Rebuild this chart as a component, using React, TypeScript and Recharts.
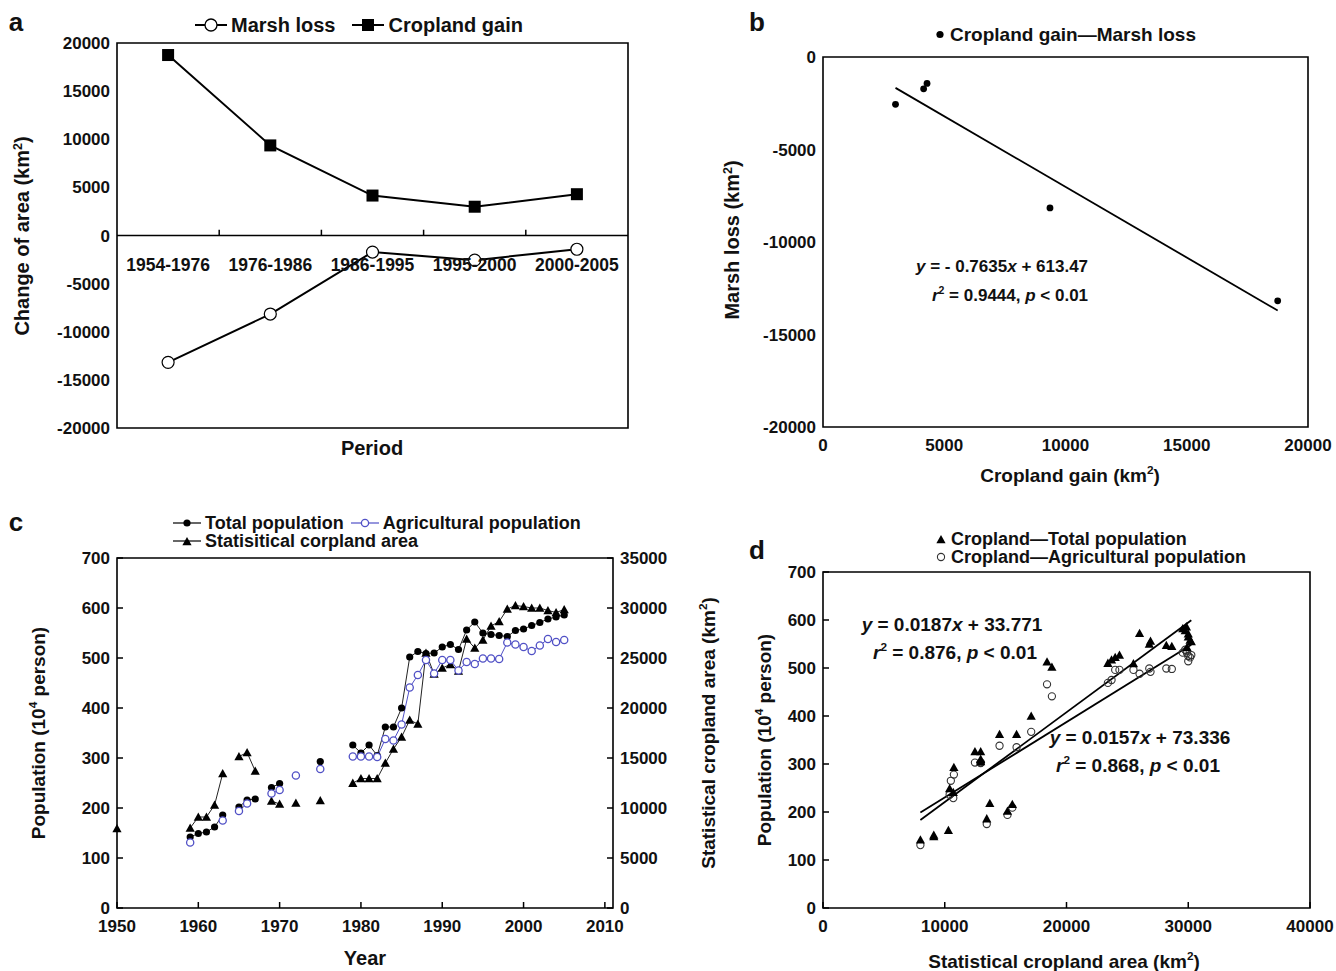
import React from "react";
import {
  LineChart,
  Line,
  ComposedChart,
  ScatterChart,
  Scatter,
  XAxis,
  YAxis,
  ReferenceLine,
  ReferenceArea,
  ReferenceDot,
} from "recharts";

const FONT = '"Liberation Sans", Arial, Helvetica, sans-serif';
const BLUE = "#5151c6";

// a: change of area per period (km2)
const periods = ["1954-1976", "1976-1986", "1986-1995", "1995-2000", "2000-2005"];
const marshLoss = [-13180, -8160, -1720, -2560, -1430];
const croplandGain = [18750, 9360, 4150, 2990, 4290];
const changeTicks = [-20000, -15000, -10000, -5000, 0, 5000, 10000, 15000, 20000];

// b: marsh loss vs cropland gain
const gainTicks = [0, 5000, 10000, 15000, 20000];
const lossTicks = [-20000, -15000, -10000, -5000, 0];
const fitB = { slope: -0.7635, intercept: 613.47 };

// c: population (10^4 person) and statistical cropland area (km2)
const yearTicks = [1950, 1960, 1970, 1980, 1990, 2000, 2010];
const popTicks = [0, 100, 200, 300, 400, 500, 600, 700];
const cropTicks = [0, 5000, 10000, 15000, 20000, 25000, 30000, 35000];

const cropYears = [
  1950, 1959, 1960, 1961, 1962, 1963, 1965, 1966, 1967, 1969, 1970, 1972, 1975,
  1979, 1980, 1981, 1982, 1983, 1984, 1985, 1986, 1987, 1988, 1989, 1990, 1991,
  1992, 1993, 1994, 1995, 1996, 1997, 1998, 1999, 2000, 2001, 2002, 2003, 2004, 2005,
];
const cropArea = [
  7950, 8000, 9100, 9100, 10300, 13450, 15150, 15550, 13700, 10700, 10400, 10500, 10750,
  12480, 12950, 12950, 12950, 14500, 15900, 17100, 18800, 18400, 25500, 23400, 24000, 24350,
  23700, 26900, 26000, 26800, 28200, 28650, 29900, 30250, 30150, 30000, 30000, 29750, 29550, 29850,
];

const totalYears = [
  1959, 1960, 1961, 1962, 1963, 1965, 1966, 1967, 1969, 1970, 1975,
  1979, 1980, 1981, 1982, 1983, 1984, 1985, 1986, 1987, 1988, 1989, 1990, 1991,
  1992, 1993, 1994, 1995, 1996, 1997, 1998, 1999, 2000, 2001, 2002, 2003, 2004, 2005,
];
const totalPop = [
  142, 149, 152, 162, 186, 202, 216, 218, 241, 249, 293,
  326, 310, 326, 305, 362, 362, 400, 502, 513, 509, 510, 522, 527,
  517, 556, 572, 550, 547, 545, 543, 555, 558, 565, 571, 578, 582, 586,
];

const agriYears = [
  1959, 1963, 1965, 1966, 1969, 1970, 1972, 1975,
  1979, 1980, 1981, 1982, 1983, 1984, 1985, 1986, 1987, 1988, 1989, 1990, 1991,
  1992, 1993, 1994, 1995, 1996, 1997, 1998, 1999, 2000, 2001, 2002, 2003, 2004, 2005,
];
const agriPop = [
  131, 175, 194, 209, 229, 236, 265, 278,
  303, 303, 303, 302, 338, 335, 367, 441, 466, 496, 469, 496, 496,
  475, 492, 488, 499, 499, 498, 531, 527, 522, 514, 525, 538, 532, 536,
];

// d: regressions of population on cropland area
const dAreaTicks = [0, 10000, 20000, 30000, 40000];
const fitTotal = { slope: 0.0187, intercept: 33.771 };
const fitAgri = { slope: 0.0157, intercept: 73.336 };

// ---------- tables ----------
const tableA = periods.map((p, i) => ({
  period: p,
  pos: i + 0.5,
  loss: marshLoss[i],
  gain: croplandGain[i],
}));
const tableB = croplandGain.map((g, i) => ({ gain: g, loss: marshLoss[i] }));
const gainMin = Math.min(...croplandGain);
const gainMax = Math.max(...croplandGain);

const lookup = (years: number[], vals: number[], y: number) => {
  const i = years.indexOf(y);
  return i < 0 ? null : vals[i];
};
const tableC: any[] = [];
for (let y = cropYears[0]; y <= cropYears[cropYears.length - 1]; y++) {
  tableC.push({
    year: y,
    crop: lookup(cropYears, cropArea, y),
    total: lookup(totalYears, totalPop, y),
    agri: lookup(agriYears, agriPop, y),
  });
}

const pairTotal = totalYears
  .filter((y) => cropYears.includes(y))
  .map((y) => ({ area: lookup(cropYears, cropArea, y), pop: lookup(totalYears, totalPop, y) }));
const pairAgri = agriYears
  .filter((y) => cropYears.includes(y))
  .map((y) => ({ area: lookup(cropYears, cropArea, y), pop: lookup(agriYears, agriPop, y) }));
const dAreas = pairTotal.map((p) => p.area as number);
const dMin = Math.min(...dAreas);
const dMax = Math.max(...dAreas);

// ---------- ticks ----------
const tickStyle: React.CSSProperties = {
  fontFamily: FONT,
  fontSize: 17,
  fontWeight: 700,
  fill: "#111",
};
const GAP = 7;
const XGAP = 10;
const TL = 6;

function TickLeft(props: any) {
  const { x, y, payload, inner } = props;
  const ax = x + GAP;
  return (
    <g>
      {inner && <line x1={ax} x2={ax + TL} y1={y} y2={y} stroke="#000" strokeWidth={1.5} />}
      <text x={x} y={y} dy="0.36em" textAnchor="end" style={tickStyle}>
        {payload.value}
      </text>
    </g>
  );
}

function TickRight(props: any) {
  const { x, y, payload, inner } = props;
  const ax = x - GAP;
  return (
    <g>
      {inner && <line x1={ax} x2={ax - TL} y1={y} y2={y} stroke="#000" strokeWidth={1.5} />}
      <text x={x} y={y} dy="0.36em" textAnchor="start" style={tickStyle}>
        {payload.value}
      </text>
    </g>
  );
}

function TickBottom(props: any) {
  const { x, y, payload, inner } = props;
  const ay = y - XGAP;
  return (
    <g>
      {inner && <line x1={x} x2={x} y1={ay} y2={ay - TL} stroke="#000" strokeWidth={1.5} />}
      <text x={x} y={y} dy="0.8em" textAnchor="middle" style={tickStyle}>
        {payload.value}
      </text>
    </g>
  );
}

// ---------- marker shapes (own prop names so the series props do not repaint them) ----------
function Tri(props: any) {
  const { cx, cy, paint = "#000" } = props;
  if (cx == null || cy == null) return <g />;
  const s = 4.6;
  return (
    <path
      d={`M${cx},${cy - s} L${cx + s},${cy + s * 0.8} L${cx - s},${cy + s * 0.8} Z`}
      fill={paint}
    />
  );
}

function Disc(props: any) {
  const { cx, cy, rad = 3.6, paint = "#000" } = props;
  if (cx == null || cy == null) return <g />;
  return <circle cx={cx} cy={cy} r={rad} fill={paint} />;
}

function Ring(props: any) {
  const { cx, cy, rad = 3.6, edge = "#000", inside = "#fff", sw = 1.3 } = props;
  if (cx == null || cy == null) return <g />;
  return <circle cx={cx} cy={cy} r={rad} fill={inside} stroke={edge} strokeWidth={sw} />;
}

function Square(props: any) {
  const { cx, cy } = props;
  if (cx == null || cy == null) return <g />;
  return <rect x={cx - 6} y={cy - 6} width={12} height={12} fill="#000" />;
}

// ---------- html text ----------
function Txt(props: {
  x: number;
  y: number;
  size?: number;
  rotate?: number;
  anchor?: "start" | "middle" | "end";
  children: React.ReactNode;
}) {
  const { x, y, size = 17, rotate = 0, anchor = "middle", children } = props;
  const tx = anchor === "middle" ? "-50%" : anchor === "start" ? "0%" : "-100%";
  return (
    <div
      style={{
        position: "absolute",
        left: x,
        top: y,
        transform: `translate(${tx}, -50%) rotate(${rotate}deg)`,
        whiteSpace: "nowrap",
        fontFamily: FONT,
        fontWeight: 700,
        fontSize: size,
        lineHeight: 1,
        color: "#111",
      }}
    >
      {children}
    </div>
  );
}

const Sup = ({ children }: { children: React.ReactNode }) => (
  <sup style={{ fontSize: "0.62em", verticalAlign: "0.6em", lineHeight: 0 }}>{children}</sup>
);

function Marker({ kind, color = "#000", line = true, w = 30 }: { kind: string; color?: string; line?: boolean; w?: number }) {
  const width = line ? w : 14;
  const c = width / 2;
  const heavy = kind === "sq" || kind === "ring-a";
  return (
    <svg width={width} height={14} style={{ display: "block", marginRight: 3 }}>
      {line && <line x1={1} x2={width - 1} y1={7} y2={7} stroke={color} strokeWidth={heavy ? 2 : 1.2} />}
      {kind === "ring-a" && <Ring cx={c} cy={7} rad={6} sw={1.3} />}
      {kind === "sq" && <Square cx={c} cy={7} />}
      {kind === "disc" && <Disc cx={c} cy={7} />}
      {kind === "ring" && <Ring cx={c} cy={7} edge={color} />}
      {kind === "ring-d" && <Ring cx={c} cy={7} edge="#333" inside="none" sw={1.1} />}
      {kind === "tri" && <Tri cx={c} cy={7.5} />}
    </svg>
  );
}

const Row = ({ x, y, size = 17, children }: { x: number; y: number; size?: number; children: React.ReactNode }) => (
  <div
    style={{
      position: "absolute",
      left: x,
      top: y,
      transform: "translateY(-50%)",
      display: "flex",
      alignItems: "center",
      whiteSpace: "nowrap",
      fontFamily: FONT,
      fontWeight: 700,
      fontSize: size,
      lineHeight: 1,
      color: "#111",
    }}
  >
    {children}
  </div>
);

const frame = { fill: "none", fillOpacity: 0, stroke: "#000", strokeWidth: 1.6 };

export default function App() {
  return (
    <div style={{ position: "absolute", left: 0, top: 0, width: 1336, height: 971, background: "#fff" }}>
      {/* ---------------- a ---------------- */}
      <div style={{ position: "absolute", left: 0, top: 0 }}>
        <LineChart
          width={640}
          height={470}
          data={tableA}
          margin={{ top: 43, right: 12, bottom: 42, left: 57 }}
        >
          <XAxis type="number" dataKey="pos" domain={[0, 5]} hide />
          <YAxis
            domain={[-20000, 20000]}
            ticks={changeTicks}
            interval={0}
            width={60}
            axisLine={false}
            tickLine={false}
            tickSize={0}
            tickMargin={GAP}
            tick={<TickLeft />}
          />
          <ReferenceArea x1={0} x2={5} y1={-20000} y2={20000} {...frame} />
          <ReferenceLine y={0} stroke="#000" strokeWidth={1.6} />
          {[1, 2, 3, 4].map((b) => (
            <ReferenceLine
              key={b}
              segment={[
                { x: b, y: 0 },
                { x: b, y: 600 },
              ]}
              stroke="#000"
              strokeWidth={1.5}
            />
          ))}
          {tableA.map((r) => (
            <ReferenceDot
              key={r.period}
              x={r.pos}
              y={0}
              r={0}
              stroke="none"
              label={{ value: r.period, position: "bottom", offset: 23, style: { ...tickStyle, fontSize: 17.5 } }}
            />
          ))}
          <Line
            type="linear"
            dataKey="gain"
            stroke="#000"
            strokeWidth={2}
            dot={<Square />}
            isAnimationActive={false}
          />
          <Line
            type="linear"
            dataKey="loss"
            stroke="#000"
            strokeWidth={2}
            dot={<Ring rad={6} sw={1.2} />}
            isAnimationActive={false}
          />
        </LineChart>
      </div>
      <Txt x={16} y={22} size={26}>a</Txt>
      <Row x={194} y={25} size={20}>
        <Marker kind="ring-a" w={34} />
        <span style={{ marginRight: 16 }}>Marsh loss</span>
        <Marker kind="sq" w={34} />
        <span>Cropland gain</span>
      </Row>
      <Txt x={22} y={236} rotate={-90} size={20}>
        Change of area (km<Sup>2</Sup>)
      </Txt>
      <Txt x={372} y={448} size={20}>Period</Txt>

      {/* ---------------- b ---------------- */}
      <div style={{ position: "absolute", left: 660, top: 0 }}>
        <ScatterChart width={676} height={490} margin={{ top: 57, right: 28, bottom: 33, left: 93 }}>
          <XAxis
            type="number"
            dataKey="gain"
            domain={[0, 20000]}
            ticks={gainTicks}
            interval={0}
            height={30}
            axisLine={false}
            tickLine={false}
            tickSize={0}
            tickMargin={XGAP}
            tick={<TickBottom />}
          />
          <YAxis
            type="number"
            dataKey="loss"
            domain={[-20000, 0]}
            ticks={lossTicks}
            interval={0}
            width={70}
            axisLine={false}
            tickLine={false}
            tickSize={0}
            tickMargin={GAP}
            tick={<TickLeft />}
          />
          <ReferenceArea x1={0} x2={20000} y1={-20000} y2={0} {...frame} />
          <ReferenceLine
            segment={[
              { x: gainMin, y: fitB.slope * gainMin + fitB.intercept },
              { x: gainMax, y: fitB.slope * gainMax + fitB.intercept },
            ]}
            stroke="#000"
            strokeWidth={1.8}
          />
          <Scatter data={tableB} shape={<Disc rad={3.4} />} isAnimationActive={false} />
        </ScatterChart>
      </div>
      <Txt x={757} y={22} size={26}>b</Txt>
      <Row x={933} y={34} size={19}>
        <Marker kind="disc" line={false} />
        <span>Cropland gain—Marsh loss</span>
      </Row>
      <Txt x={732} y={240} rotate={-90} size={20}>
        Marsh loss (km<Sup>2</Sup>)
      </Txt>
      <Txt x={1070} y={475} size={19}>
        Cropland gain (km<Sup>2</Sup>)
      </Txt>
      <Txt x={1002} y={266}>
        <i>y</i> = - 0.7635<i>x</i> + 613.47
      </Txt>
      <Txt x={1010} y={295}>
        <i>r</i>
        <Sup>2</Sup> = 0.9444, <i>p</i> &lt; 0.01
      </Txt>

      {/* ---------------- c ---------------- */}
      <div style={{ position: "absolute", left: 0, top: 490 }}>
        <ComposedChart
          width={740}
          height={481}
          data={tableC}
          margin={{ top: 68, right: 57, bottom: 33, left: 57 }}
        >
          <XAxis
            type="number"
            dataKey="year"
            domain={[1950, 2011]}
            ticks={yearTicks}
            interval={0}
            height={30}
            axisLine={false}
            tickLine={false}
            tickSize={0}
            tickMargin={XGAP}
            tick={<TickBottom inner />}
          />
          <YAxis
            yAxisId="pop"
            domain={[0, 700]}
            ticks={popTicks}
            interval={0}
            width={60}
            axisLine={false}
            tickLine={false}
            tickSize={0}
            tickMargin={GAP}
            tick={<TickLeft inner />}
          />
          <YAxis
            yAxisId="crop"
            orientation="right"
            domain={[0, 35000]}
            ticks={cropTicks}
            interval={0}
            width={70}
            axisLine={false}
            tickLine={false}
            tickSize={0}
            tickMargin={GAP}
            tick={<TickRight inner />}
          />
          <ReferenceArea yAxisId="pop" x1={1950} x2={2011} y1={0} y2={700} {...frame} />
          <Line
            yAxisId="crop"
            type="linear"
            dataKey="crop"
            stroke="#222"
            strokeWidth={1}
            dot={<Tri paint="#000" />}
            isAnimationActive={false}
          />
          <Line
            yAxisId="pop"
            type="linear"
            dataKey="total"
            stroke="#222"
            strokeWidth={1}
            dot={<Disc paint="#000" />}
            isAnimationActive={false}
          />
          <Line
            yAxisId="pop"
            type="linear"
            dataKey="agri"
            stroke={BLUE}
            strokeWidth={1}
            dot={<Ring edge={BLUE} inside="#fff" />}
            isAnimationActive={false}
          />
        </ComposedChart>
      </div>
      <Txt x={16} y={522} size={26}>c</Txt>
      <Row x={172} y={523} size={18}>
        <Marker kind="disc" />
        <span style={{ marginRight: 6 }}>Total population</span>
        <Marker kind="ring" color={BLUE} />
        <span>Agricultural population</span>
      </Row>
      <Row x={172} y={541} size={18}>
        <Marker kind="tri" />
        <span>Statisitical corpland area</span>
      </Row>
      <Txt x={38} y={733} rotate={-90} size={19}>
        Population (10<Sup>4</Sup> person)
      </Txt>
      <Txt x={708} y={733} rotate={-90} size={19}>
        Statistical cropland area (km<Sup>2</Sup>)
      </Txt>
      <Txt x={365} y={958} size={20}>Year</Txt>

      {/* ---------------- d ---------------- */}
      <div style={{ position: "absolute", left: 740, top: 490 }}>
        <ScatterChart width={596} height={481} margin={{ top: 82, right: 26, bottom: 33, left: 33 }}>
          <XAxis
            type="number"
            dataKey="area"
            domain={[0, 40000]}
            ticks={dAreaTicks}
            interval={0}
            height={30}
            axisLine={false}
            tickLine={false}
            tickSize={0}
            tickMargin={XGAP}
            tick={<TickBottom inner />}
          />
          <YAxis
            type="number"
            dataKey="pop"
            domain={[0, 700]}
            ticks={popTicks}
            interval={0}
            width={50}
            axisLine={false}
            tickLine={false}
            tickSize={0}
            tickMargin={GAP}
            tick={<TickLeft inner />}
          />
          <ReferenceArea x1={0} x2={40000} y1={0} y2={700} {...frame} />
          <ReferenceLine
            segment={[
              { x: dMin, y: fitTotal.slope * dMin + fitTotal.intercept },
              { x: dMax, y: fitTotal.slope * dMax + fitTotal.intercept },
            ]}
            stroke="#000"
            strokeWidth={1.8}
          />
          <ReferenceLine
            segment={[
              { x: dMin, y: fitAgri.slope * dMin + fitAgri.intercept },
              { x: dMax, y: fitAgri.slope * dMax + fitAgri.intercept },
            ]}
            stroke="#000"
            strokeWidth={1.8}
          />
          <Scatter
            data={pairAgri}
            shape={<Ring edge="#333" inside="none" sw={1.1} />}
            isAnimationActive={false}
          />
          <Scatter data={pairTotal} shape={<Tri paint="#000" />} isAnimationActive={false} />
        </ScatterChart>
      </div>
      <Txt x={757} y={550} size={26}>d</Txt>
      <Row x={934} y={539} size={18}>
        <Marker kind="tri" line={false} />
        <span>Cropland—Total population</span>
      </Row>
      <Row x={934} y={557} size={18}>
        <Marker kind="ring-d" line={false} />
        <span>Cropland—Agricultural population</span>
      </Row>
      <Txt x={764} y={740} rotate={-90} size={19}>
        Population (10<Sup>4</Sup> person)
      </Txt>
      <Txt x={1064} y={961} size={19}>
        Statistical cropland area (km<Sup>2</Sup>)
      </Txt>
      <Txt x={952} y={624} size={19}>
        <i>y</i> = 0.0187<i>x</i> + 33.771
      </Txt>
      <Txt x={955} y={652} size={19}>
        <i>r</i>
        <Sup>2</Sup> = 0.876, <i>p</i> &lt; 0.01
      </Txt>
      <Txt x={1140} y={737} size={19}>
        <i>y</i> = 0.0157<i>x</i> + 73.336
      </Txt>
      <Txt x={1138} y={765} size={19}>
        <i>r</i>
        <Sup>2</Sup> = 0.868, <i>p</i> &lt; 0.01
      </Txt>
    </div>
  );
}
